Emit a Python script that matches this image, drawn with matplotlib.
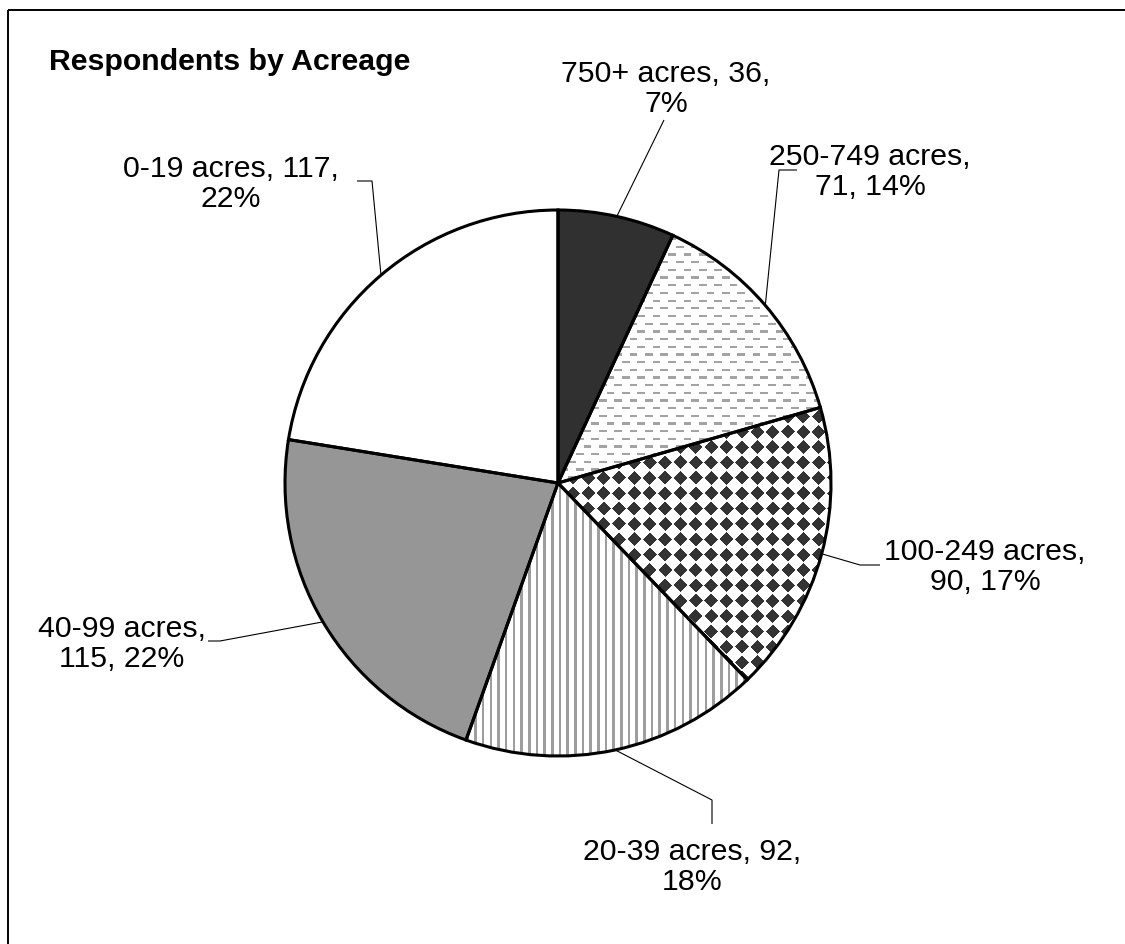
import numpy as np
import matplotlib
matplotlib.use("Agg")
import matplotlib.pyplot as plt
from matplotlib.patches import Rectangle

# Data
categories = ["750+ acres", "250-749 acres", "100-249 acres", "20-39 acres", "40-99 acres", "0-19 acres"]
counts = [36, 71, 90, 92, 115, 117]
percent_labels = ["7%", "14%", "17%", "18%", "22%", "22%"]
label_texts = [
    "750+ acres, 36,\n7%",
    "250-749 acres,\n71, 14%",
    "100-249 acres,\n90, 17%",
    "20-39 acres, 92,\n18%",
    "40-99 acres,\n115, 22%",
    "0-19 acres, 117,\n22%",
]
title = "Respondents by Acreage"

W, H = 1125, 944
fig = plt.figure(figsize=(W / 100, H / 100), dpi=100)
ax = fig.add_axes([0, 0, 1, 1])

cx, cy, R = 558, 483, 273

# Fill styles: solid colour or a texture
face_colors = ["#303030", "white", "white", "white", "#969696", "white"]
textures = [None, "dash", "diamond", "vline", None, None]

# Pie faces (y axis inverted, so counterclock=True draws clockwise on screen)
wedges, _ = ax.pie(counts, startangle=-90, counterclock=True, center=(cx, cy),
                   radius=R, colors=face_colors,
                   wedgeprops=dict(linewidth=0, edgecolor="none"))

# Build textures at device pixel resolution
yy, xx = np.mgrid[0:H, 0:W].astype(float) + 0.5
step = 7.68  # half of the 15.36 px repeat


def make_texture(kind):
    img = np.ones((H, W, 3))
    if kind == "dash":
        col = np.array([0.64, 0.64, 0.64])
        ry = np.mod(yy, 2 * step)
        rx = np.mod(xx, 2 * step)
        mask = ((ry < 2.3) & (rx < step)) | ((ry >= step) & (ry < step + 2.3) & (rx >= step))
        img[mask] = col
    elif kind == "vline":
        col = np.array([0.62, 0.62, 0.62])
        mask = np.mod(xx + 2.0, step) < 2.6
        img[mask] = col
    elif kind == "diamond":
        col = np.array([0.2, 0.2, 0.2])
        u = np.mod(xx + 3.0, 2 * step) - step
        v = np.mod(yy + 6.0, 2 * step) - step
        mask = (np.abs(u) + np.abs(v)) < 7.0
        img[mask] = col
    return img


for w, kind in zip(wedges, textures):
    if kind is None:
        continue
    im = ax.imshow(make_texture(kind), extent=(0, W, H, 0), origin="upper",
                   interpolation="nearest", zorder=2)
    im.set_clip_path(w)

# Wedge outlines on top
outline, _ = ax.pie(counts, startangle=-90, counterclock=True, center=(cx, cy),
                    radius=R, wedgeprops=dict(fill=False, linewidth=2.2,
                                              edgecolor="black"))
for o in outline:
    o.set_zorder(3)

ax.set_xlim(0, W)
ax.set_ylim(H, 0)
ax.set_aspect("equal")
ax.axis("off")

# Label placements and leader elbows
label_pos = [(666, 89), (870, 172), (985, 567), (692, 867), (122, 644), (231, 184)]
elbows = [
    [(664, 120)],
    [(779, 170), (797, 170)],
    [(860, 565), (880, 565)],
    [(712, 800), (712, 824)],
    [(220, 641), (208, 641)],
    [(372, 181), (357, 181)],
]

total = sum(counts)
start = 90.0
font = "Liberation Sans"
for i, v in enumerate(counts):
    sweep = v / total * 360.0
    mid = np.deg2rad(start - sweep / 2)
    start -= sweep
    ex = cx + R * np.cos(mid)
    ey = cy - R * np.sin(mid)
    pts = [(ex, ey)] + elbows[i]
    ax.plot([p[0] for p in pts], [p[1] for p in pts], color="black", lw=0.8,
            zorder=4, solid_capstyle="butt")
    ax.text(label_pos[i][0], label_pos[i][1], label_texts[i], ha="center",
            va="center", fontsize=21.8, family=font, linespacing=1.07, zorder=5)

ax.text(49, 70, title, ha="left", va="baseline", fontsize=21.8, fontweight="bold",
        family=font)

# Chart area border
ax.add_patch(Rectangle((8, 10), W, H, fill=False, edgecolor="black", lw=1.4,
                       zorder=6, clip_on=False))

fig.savefig("out.png", dpi=100)
